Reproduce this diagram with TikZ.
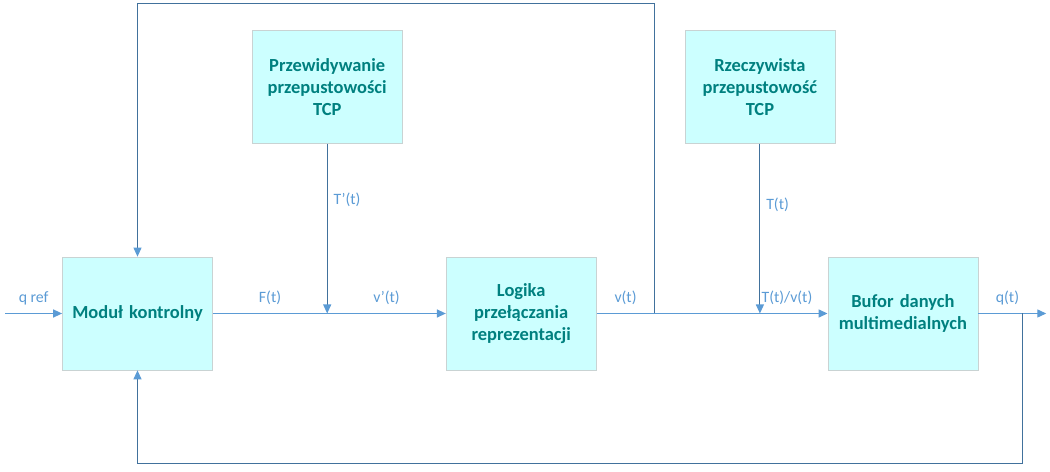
\documentclass[tikz,border=0pt]{standalone}
\usepackage{fontspec}
\setmainfont{Carlito}
\usepackage{xcolor}
\usepackage{tikz}
\usetikzlibrary{
    arrows.meta,
    positioning,
    calc,
}
\definecolor{boxfill}{HTML}{CCFFFF}
\definecolor{boxline}{HTML}{C9D3D3}
\definecolor{boxtext}{HTML}{00807F}
\definecolor{sigblue}{HTML}{5B9BD5}
\definecolor{fbblue}{HTML}{41719C}

\begin{document}
\begin{tikzpicture}[
        node distance=2.26cm and 4.66cm,
        block/.style={
            rectangle, draw=boxline, fill=boxfill,
            minimum width=3.0cm, minimum height=2.26cm,
            text centered, text width=2.7cm, align=center,
            font=\bfseries\fontsize{10.5}{12.5}\selectfont, text=boxtext
        },
        sig/.style={-{Triangle[length=0.18cm,width=0.16cm]}, sigblue, line width=0.8pt},
        fb/.style={-{Triangle[length=0.18cm,width=0.16cm,color=sigblue]}, fbblue, line width=0.6pt},
        lbl/.style={font=\fontsize{9}{11}\selectfont, text=sigblue},
    ]
    \useasboundingbox (0,0) rectangle (21,9.44);

    % ── Main chain ──
    \node[block] (modul) at (2.75,3.17) {Moduł kontrolny};
    \node[block, right=4.66cm of modul] (logika) {Logika\\przełączania\\reprezentacji};
    \node[block, right=4.62cm of logika] (bufor) {Bufor danych\\multimedialnych};

    % ── Throughput blocks ──
    \node[block, above right=2.26cm and 0.78cm of modul] (przew) {Przewidywanie\\przepustowości\\TCP};
    \node[block, above right=2.26cm and 1.76cm of logika] (rzecz) {Rzeczywista\\przepustowość\\TCP};

    % ── Junctions ──
    \coordinate[left=1.14cm of modul.west] (qin);
    \coordinate (jTp) at (przew.south |- modul.east);
    \coordinate[right=1.16cm of logika.east] (jV);
    \coordinate (jT) at (rzecz.south |- logika.east);
    \coordinate[right=0.88cm of bufor.east] (jQ);
    \coordinate[right=1.36cm of bufor.east] (qout);
    \coordinate[above=6.2cm of jV] (fbtop);
    \coordinate[below=3.0cm of jQ] (fbbot);

    % ── Signals ──
    \draw[sig] (qin) -- node[lbl, above=1pt] {q ref} (modul);
    \draw[sig] (modul) -- node[lbl, above=1pt] {F(t)} (jTp) -- node[lbl, above=1pt] {v’(t)} (logika);
    \draw[sig] (logika) -- node[lbl, above=1pt] {v(t)} (jV) -- (jT) -- node[lbl, above=1pt, pos=0.4] {T(t)/v(t)} (bufor);
    \draw[sig] (bufor) -- node[lbl, above=1pt, pos=0.43] {q(t)} (qout);

    \draw[fb] (przew) -- node[lbl, right, pos=0.33] {T’(t)} (jTp);
    \draw[fb] (rzecz) -- node[lbl, right, pos=0.36] {T(t)} (jT);

    % ── Feedback loops ──
    \draw[fb] (jV) -- (fbtop) -| (modul.north);
    \draw[fb] (jQ) -- (fbbot) -| (modul.south);

\end{tikzpicture}
\end{document}
